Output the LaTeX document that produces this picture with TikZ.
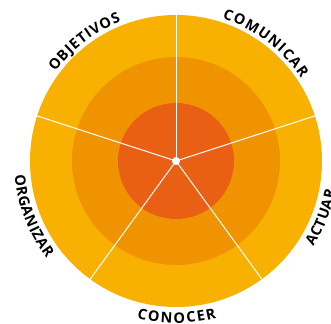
\documentclass[tikz,border=0pt]{standalone}
\usepackage{fontspec}
\newfontfamily\labelfont{Open Sans}
\usetikzlibrary{decorations.text}

\definecolor{ringouter}{HTML}{F8B100}
\definecolor{ringmid}{HTML}{F09300}
\definecolor{ringinner}{HTML}{E95F13}

\tikzset{
  labelpath/.style={decorate,decoration={text along path,
      text={|\labelfont\bfseries\fontsize{14.5}{16}\selectfont|#1},
      text align={fit to path}}}
}

\begin{document}
\begin{tikzpicture}[x=1pt,y=1pt]
  \useasboundingbox (-176,-162) rectangle (155,161);
  % rings
  \fill[ringouter] (0,0) circle (146);
  \fill[ringmid] (0,0) circle (104);
  \fill[ringinner] (0,0) circle (58);
  % spokes and hub
  \foreach \a in {90,18,-54,-126,162}
    \draw[white,line width=1pt] (0,0) -- (\a:146);
  \fill[white] (0,0) circle (4);
  % labels, top ones clockwise, bottom ones counterclockwise
  \path[labelpath={OBJETIVOS}] (143.5:150) arc (143.5:111.5:150);
  \path[labelpath={COMUNICAR}] (72:150) arc (72:33.5:150);
  \path[labelpath={ACTUAR}] (-32:162) arc (-32:-10.5:162);
  \path[labelpath={CONOCER}] (-104:162) arc (-104:-75.5:162);
  \path[labelpath={ORGANIZAR}] (185:162) arc (185:217:162);
\end{tikzpicture}
\end{document}
